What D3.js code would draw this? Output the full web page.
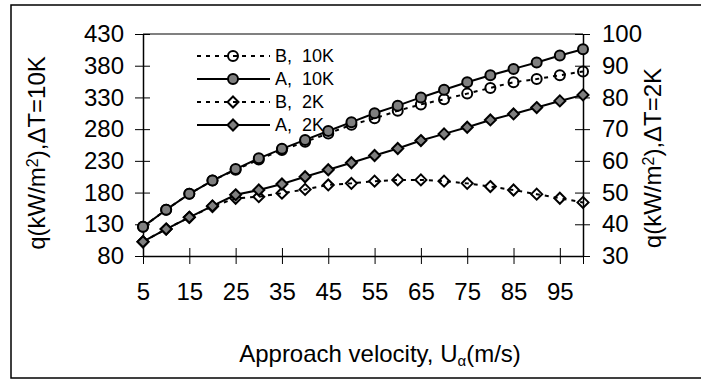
<!DOCTYPE html>
<html>
<head>
<meta charset="utf-8">
<script src="https://d3js.org/d3.v7.min.js"></script>
<style>
  body { margin: 0; background: #fff; }
  text { font-family: Arial, "Liberation Sans", sans-serif; fill: #000; }
</style>
</head>
<body>
<div id="chart"></div>
<script>
// approach velocity (m/s)
var velocity = [5, 10, 15, 20, 25, 30, 35, 40, 45, 50, 55, 60, 65, 70, 75, 80, 85, 90, 95, 100];
var xTickLabels = [5, 15, 25, 35, 45, 55, 65, 75, 85, 95];
var leftTicks = [80, 130, 180, 230, 280, 330, 380, 430];
var rightTicks = [30, 40, 50, 60, 70, 80, 90, 100];

// dT = 10K, left axis
var b10K = [126, 153, 178, 199, 216, 232, 247, 260, 273, 287, 297, 309, 319, 327, 336, 345, 354, 359, 365, 371];
var a10K = [126, 153, 178, 199, 217, 234, 249, 263, 277, 291, 305, 317, 330, 342, 354, 365, 375, 385, 396, 406];
// dT = 2K, right axis
var b2K = [34.5, 38.5, 42.2, 45.6, 48.2, 48.7, 49.8, 51, 52.4, 52.9, 53.6, 54, 54, 53.6, 52.9, 51.9, 50.8, 49.5, 48.2, 46.9];
var a2K = [34.5, 38.5, 42.2, 45.8, 49.3, 50.8, 52.7, 55, 57.2, 59.4, 61.7, 63.9, 66.4, 68.5, 70.6, 72.9, 74.8, 76.8, 78.9, 80.8];

var width = 701, height = 379;
var plot = {left: 143, right: 583, top: 34, bottom: 256};

var svg = d3.select("#chart").append("svg")
    .attr("width", width)
    .attr("height", height);

// outer frame (right edge runs off the picture)
svg.append("rect")
    .attr("x", 11).attr("y", 5)
    .attr("width", 720).attr("height", 373)
    .attr("fill", "none").attr("stroke", "#000").attr("stroke-width", 1.5);

var x = d3.scaleLinear().domain([5, 100]).range([plot.left, plot.right]);
var yL = d3.scaleLinear().domain([80, 430]).range([plot.bottom, plot.top]);
var yR = d3.scaleLinear().domain([30, 100]).range([plot.bottom, plot.top]);

// top border of plot area
svg.append("line")
    .attr("x1", plot.left).attr("x2", plot.right)
    .attr("y1", plot.top).attr("y2", plot.top)
    .attr("stroke", "#808080").attr("stroke-width", 2);

function styleAxis(g) {
    g.select(".domain").attr("stroke", "#000").attr("stroke-width", 1.5);
    g.selectAll(".tick line").attr("stroke", "#000").attr("stroke-width", 1);
    g.selectAll(".tick text").style("font-size", "24px").attr("fill", "#000");
}

var xAxis = svg.append("g")
    .attr("transform", "translate(0," + plot.bottom + ")")
    .call(d3.axisBottom(x).tickValues(xTickLabels.concat([100])).tickSizeInner(8).tickSizeOuter(0)
        .tickFormat(function(d) { return d === 100 ? "" : d; }));
styleAxis(xAxis);
xAxis.selectAll(".tick line").attr("y1", -8);
xAxis.selectAll(".tick text").attr("y", 27).attr("dy", "0.71em");

var leftAxis = svg.append("g")
    .attr("transform", "translate(" + plot.left + ",0)")
    .call(d3.axisLeft(yL).tickValues(leftTicks).tickSizeInner(8).tickSizeOuter(0));
styleAxis(leftAxis);
leftAxis.selectAll(".tick line").attr("x2", 7).attr("x1", -8);
leftAxis.selectAll(".tick text").attr("x", -19);

var rightAxis = svg.append("g")
    .attr("transform", "translate(" + plot.right + ",0)")
    .call(d3.axisRight(yR).tickValues(rightTicks).tickSizeInner(8).tickSizeOuter(0));
styleAxis(rightAxis);
rightAxis.selectAll(".tick line").attr("x1", -8).attr("x2", 7);
rightAxis.selectAll(".tick text").attr("x", 19);

// axis titles
var lt = svg.append("text")
    .attr("transform", "translate(45,153) rotate(-90)")
    .attr("text-anchor", "middle").style("font-size", "24px");
lt.append("tspan").text("q(kW/m");
lt.append("tspan").attr("baseline-shift", "45%").style("font-size", "16px").text("2");
lt.append("tspan").text("),\u0394T=10K");

var rt = svg.append("text")
    .attr("transform", "translate(661,158) rotate(-90)")
    .attr("text-anchor", "middle").style("font-size", "24px");
rt.append("tspan").text("q(kW/m");
rt.append("tspan").attr("baseline-shift", "45%").style("font-size", "16px").text("2");
rt.append("tspan").text("),\u0394T=2K");

var xt = svg.append("text")
    .attr("x", 380).attr("y", 362)
    .attr("text-anchor", "middle").style("font-size", "24px");
xt.append("tspan").text("Approach velocity, U");
xt.append("tspan").attr("baseline-shift", "-25%").style("font-size", "15px").text("\u03b1");
xt.append("tspan").text("(m/s)");

var series = [
    {name: "B,  10K", values: b10K, y: yL, dash: "4,5", shape: "circle", fill: "none"},
    {name: "A,  10K", values: a10K, y: yL, dash: null, shape: "circle", fill: "#7f7f7f"},
    {name: "B,  2K", values: b2K, y: yR, dash: "4,5", shape: "diamond", fill: "none"},
    {name: "A,  2K", values: a2K, y: yR, dash: null, shape: "diamond", fill: "#7f7f7f"}
];

function marker(sel, s) {
    if (s.shape === "circle") {
        sel.append("circle").attr("r", 5);
    } else {
        sel.append("path").attr("d", "M0,-5.5L5.5,0L0,5.5L-5.5,0Z");
    }
    sel.selectAll("circle,path")
        .attr("fill", s.fill).attr("stroke", "#000").attr("stroke-width", 2);
}

series.forEach(function(s) {
    var line = d3.line()
        .x(function(d, i) { return x(velocity[i]); })
        .y(function(d) { return s.y(d); });

    svg.append("path")
        .datum(s.values)
        .attr("d", line)
        .attr("fill", "none")
        .attr("stroke", "#000")
        .attr("stroke-width", 2)
        .attr("stroke-dasharray", s.dash);

    svg.append("g").selectAll("g")
        .data(s.values)
        .enter().append("g")
        .attr("transform", function(d, i) { return "translate(" + x(velocity[i]) + "," + s.y(d) + ")"; })
        .each(function() { marker(d3.select(this), s); });
});

// legend
var legend = svg.append("g").attr("transform", "translate(197,56)");
series.forEach(function(s, i) {
    var row = legend.append("g").attr("transform", "translate(0," + (i * 23) + ")");
    row.append("line")
        .attr("x1", 0).attr("x2", 73)
        .attr("stroke", "#000").attr("stroke-width", 2)
        .attr("stroke-dasharray", s.dash);
    var m = row.append("g").attr("transform", "translate(36,0)");
    marker(m, s);
    row.append("text")
        .attr("x", 78).attr("dy", "0.36em")
        .style("font-size", "18px")
        .style("white-space", "pre")
        .text(s.name);
});
</script>
</body>
</html>
